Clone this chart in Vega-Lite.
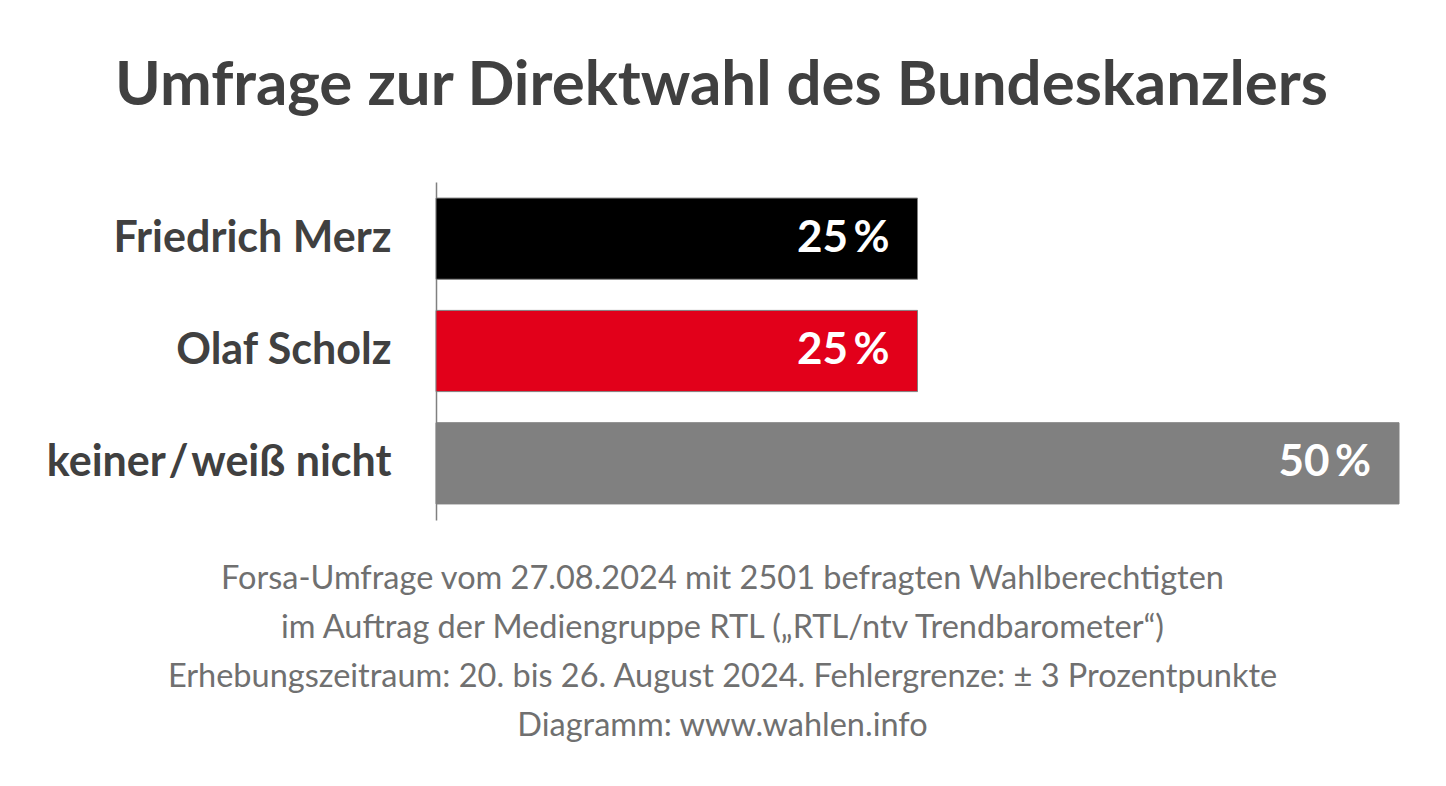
{
  "$schema": "https://vega.github.io/schema/vega-lite/v6.json",
  "width": 963,
  "height": 338,
  "autosize": {"type": "none"},
  "padding": {"left": 436, "top": 182, "right": 47, "bottom": 266},
  "background": "#ffffff",
  "config": {"view": {"stroke": null}, "font": "Lato"},
  "title": {
    "text": "Umfrage zur Direktwahl des Bundeskanzlers",
    "font": "Lato",
    "fontSize": 61.8,
    "fontWeight": "bold",
    "color": "#404040",
    "anchor": "middle",
    "frame": "group",
    "dx": -196,
    "offset": 64
  },
  "data": {
    "values": [
      {"name": "Friedrich Merz", "value": 25, "label": "25\u2009%", "color": "#000000"},
      {"name": "Olaf Scholz", "value": 25, "label": "25\u2009%", "color": "#e2001a"},
      {"name": "keiner\u200a/\u200aweiß nicht", "value": 50, "label": "50\u2009%", "color": "#808080"}
    ]
  },
  "encoding": {
    "y": {
      "field": "name",
      "type": "nominal",
      "sort": null,
      "scale": {"paddingInner": 0.277, "paddingOuter": 0.143},
      "axis": {
        "title": null,
        "ticks": false,
        "domain": true,
        "domainColor": "#808080",
        "domainWidth": 1.5,
        "labelFont": "Lato",
        "labelFontSize": 43,
        "labelFontWeight": "bold",
        "labelColor": "#404040",
        "labelPadding": 45,
        "labelLimit": 500
      }
    },
    "x": {
      "field": "value",
      "type": "quantitative",
      "scale": {"domain": [0, 50]},
      "axis": {
        "labels": false,
        "ticks": false,
        "domain": false,
        "grid": false,
        "title": [
          "Forsa-Umfrage vom 27.08.2024 mit 2501 befragten Wahlberechtigten",
          "im Auftrag der Mediengruppe RTL („RTL/ntv Trendbarometer“)",
          "Erhebungszeitraum: 20. bis 26. August 2024. Fehlergrenze: ± 3 Prozentpunkte",
          "Diagramm: www.wahlen.info"
        ],
        "titleFont": "Lato",
        "titleFontSize": 32.5,
        "titleFontWeight": "normal",
        "titleColor": "#707070",
        "titleLineHeight": 49,
        "titleX": 286,
        "titleY": 42,
        "titleAlign": "center",
        "titleBaseline": "top"
      }
    }
  },
  "layer": [
    {
      "mark": {"type": "bar", "stroke": "#808080", "strokeWidth": 1},
      "encoding": {
        "color": {"field": "color", "type": "nominal", "scale": null, "legend": null}
      }
    },
    {
      "mark": {
        "type": "text",
        "align": "right",
        "baseline": "middle",
        "dx": -28,
        "font": "Lato",
        "fontSize": 44,
        "fontWeight": "bold",
        "color": "#ffffff"
      },
      "encoding": {"text": {"field": "label"}}
    }
  ]
}
